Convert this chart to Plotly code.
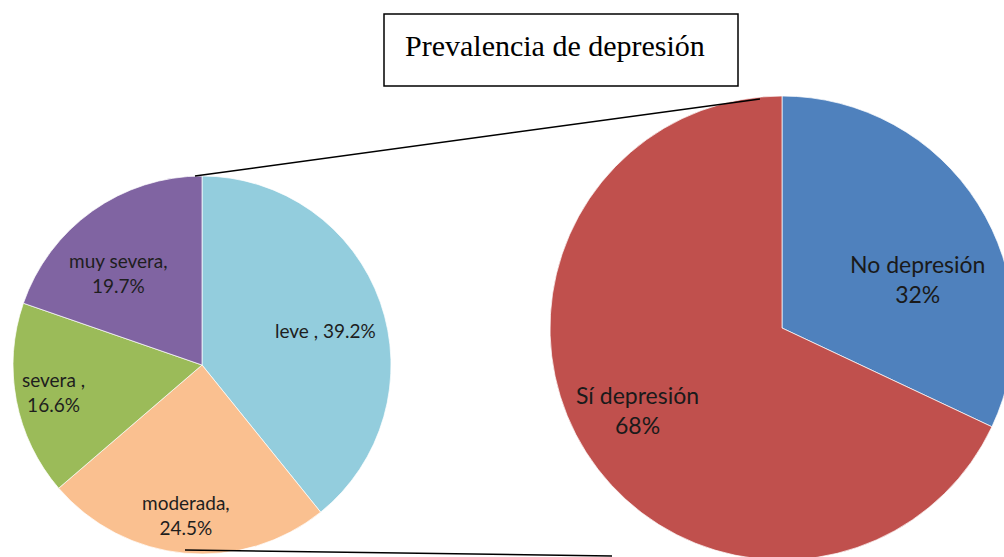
import plotly.graph_objects as go

# ---- data ----
sub_labels = ["leve", "moderada", "severa", "muy severa"]
sub_values = [39.2, 24.5, 16.6, 19.7]
sub_texts = ["leve , 39.2%", "moderada,<br>24.5%", "severa ,<br>16.6%", "muy severa,<br>19.7%"]

main_labels = ["No depresión", "Sí depresión"]
main_values = [32, 68]
main_texts = ["No depresión<br>32%", "Sí depresión<br>68%"]

title_text = "Prevalencia de depresión"

# ---- styling / layout ----
W, H = 1040, 590
sub_colors = ["#93CDDD", "#FAC090", "#9BBB59", "#8064A2"]
main_colors = ["#4F81BD", "#C0504D"]

def px(x, y):
    return x / W, 1 - y / H

fig = go.Figure()

fig.add_trace(go.Pie(
    labels=sub_labels, values=sub_values, sort=False, direction="clockwise",
    rotation=0, textinfo="none", hoverinfo="label+percent",
    marker=dict(colors=sub_colors, line=dict(color="rgba(255,255,255,0.7)", width=1)),
    domain=dict(x=[13 / W, 391 / W], y=[1 - 554 / H, 1 - 176 / H]),
    showlegend=False,
))
fig.add_trace(go.Pie(
    labels=main_labels, values=main_values, sort=False, direction="clockwise",
    rotation=0, textinfo="none", hoverinfo="label+percent",
    marker=dict(colors=main_colors, line=dict(color="rgba(255,255,255,0.7)", width=1)),
    domain=dict(x=[550 / W, 1014 / W], y=[1 - 560 / H, 1 - 96 / H]),
    showlegend=False,
))

label_font = "Lato, 'Open Sans', sans-serif"
sub_pos = [(325, 330), (186, 515), (53, 392), (118, 273)]
main_pos = [(917, 279), (637, 410)]

annotations = []
for t, (x, y) in zip(sub_texts, sub_pos):
    ax, ay = px(x, y)
    annotations.append(dict(x=ax, y=ay, xref="paper", yref="paper", text=t,
                            showarrow=False, xanchor="center", yanchor="middle",
                            font=dict(family=label_font, size=19, color="#1e1e1e")))
for t, (x, y) in zip(main_texts, main_pos):
    ax, ay = px(x, y)
    annotations.append(dict(x=ax, y=ay, xref="paper", yref="paper", text=t,
                            showarrow=False, xanchor="center", yanchor="middle",
                            font=dict(family=label_font, size=23, color="#1a1a1a")))

tx, ty = px(403, 45)
annotations.append(dict(x=tx, y=ty, xref="paper", yref="paper", text=title_text,
                        showarrow=False, xanchor="left", yanchor="middle",
                        font=dict(family="'Liberation Serif', 'Times New Roman', serif",
                                  size=30, color="#000000")))

shapes = []
bx0, by0 = px(384, 14)
bx1, by1 = px(738, 86)
shapes.append(dict(type="rect", xref="paper", yref="paper", x0=bx0, y0=by1, x1=bx1, y1=by0,
                   line=dict(color="#000000", width=1.5), fillcolor="rgba(0,0,0,0)"))
l1a, l1b = px(195, 176), px(760, 99)
shapes.append(dict(type="line", xref="paper", yref="paper", x0=l1a[0], y0=l1a[1],
                   x1=l1b[0], y1=l1b[1], line=dict(color="#000000", width=1.5)))
l2a, l2b = px(185, 550), px(612, 556)
shapes.append(dict(type="line", xref="paper", yref="paper", x0=l2a[0], y0=l2a[1],
                   x1=l2b[0], y1=l2b[1], line=dict(color="#000000", width=1.5)))

fig.update_layout(
    width=W, height=H,
    margin=dict(l=0, r=0, t=0, b=0),
    paper_bgcolor="#ffffff", plot_bgcolor="#ffffff",
    annotations=annotations, shapes=shapes,
    showlegend=False,
)

fig.write_html("out.html",
               post_script="document.documentElement.style.overflow='hidden';document.body.style.overflow='hidden';document.body.style.margin='0';")
